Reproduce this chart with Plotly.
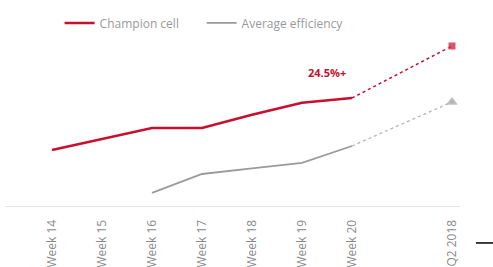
import plotly.graph_objects as go

# Data
categories = ["Week 14", "Week 15", "Week 16", "Week 17", "Week 18", "Week 19", "Week 20", "Q2 2018"]
x_pos = [14, 15, 16, 17, 18, 19, 20, 22]
champion = [21.90, 22.18, 22.45, 22.45, 22.78, 23.08, 23.20]
champion_target = 24.5
average = [None, None, 20.83, 21.30, 21.44, 21.58, 22.00]
average_target = 23.1
annotation_text = "24.5%+"

RED = "#c8102e"
GRAY = "#9a9a9a"

fig = go.Figure()

fig.add_trace(go.Scatter(
    x=x_pos[:7], y=champion, mode="lines", name="Champion cell",
    line=dict(color=RED, width=2.5), showlegend=True))
fig.add_trace(go.Scatter(
    x=x_pos[:7], y=average, mode="lines", name="Average efficiency",
    line=dict(color=GRAY, width=1.8), showlegend=True))
fig.add_trace(go.Scatter(
    x=[x_pos[6], x_pos[7]], y=[champion[-1], champion_target], mode="lines+markers",
    line=dict(color=RED, width=1.5, dash="dot"),
    marker=dict(symbol=["circle", "square"], size=[0, 8], color=RED),
    showlegend=False))
fig.add_trace(go.Scatter(
    x=[x_pos[6], x_pos[7]], y=[average[-1], average_target], mode="lines+markers",
    line=dict(color="#b5b5b5", width=1.3, dash="dot"),
    marker=dict(symbol=["circle", "triangle-up"], size=[0, 9], color=GRAY),
    showlegend=False))

fig.add_annotation(
    x=x_pos[7], y=champion_target, text="<b>" + annotation_text + "</b>",
    showarrow=False, xshift=-125, yshift=-26,
    font=dict(color=RED, size=11, family="Open Sans"))

fig.add_shape(type="line", xref="paper", yref="paper",
              x0=1.035, x1=1.075, y0=-0.21, y1=-0.21,
              line=dict(color="black", width=1.5))

fig.update_layout(
    width=493, height=267,
    margin=dict(l=5, r=33, t=30, b=61, autoexpand=False),
    paper_bgcolor="white", plot_bgcolor="white",
    font=dict(family="Open Sans", color="#8a8a8a", size=11),
    legend=dict(orientation="h", x=0.12, y=1.04, xanchor="left", yanchor="middle",
                font=dict(size=12, color="#9a9a9a"), itemwidth=30,
                entrywidth=97, entrywidthmode="pixels",
                tracegroupgap=0, bgcolor="rgba(0,0,0,0)"),
    xaxis=dict(range=[13.06, 22.16], tickmode="array", tickvals=x_pos, ticktext=categories,
               tickangle=-90, showgrid=False, zeroline=False, automargin=False,
               showline=True, linecolor="#e6e6e6", linewidth=1,
               ticks="", ticklabelstandoff=8,
               tickfont=dict(size=12, color="#8a8a8a")),
    yaxis=dict(range=[20.5, 24.9], visible=False, showgrid=False, zeroline=False,
               automargin=False),
)

fig.write_html("out.html", config={"displayModeBar": False},
               post_script="document.body.style.margin='0';")
